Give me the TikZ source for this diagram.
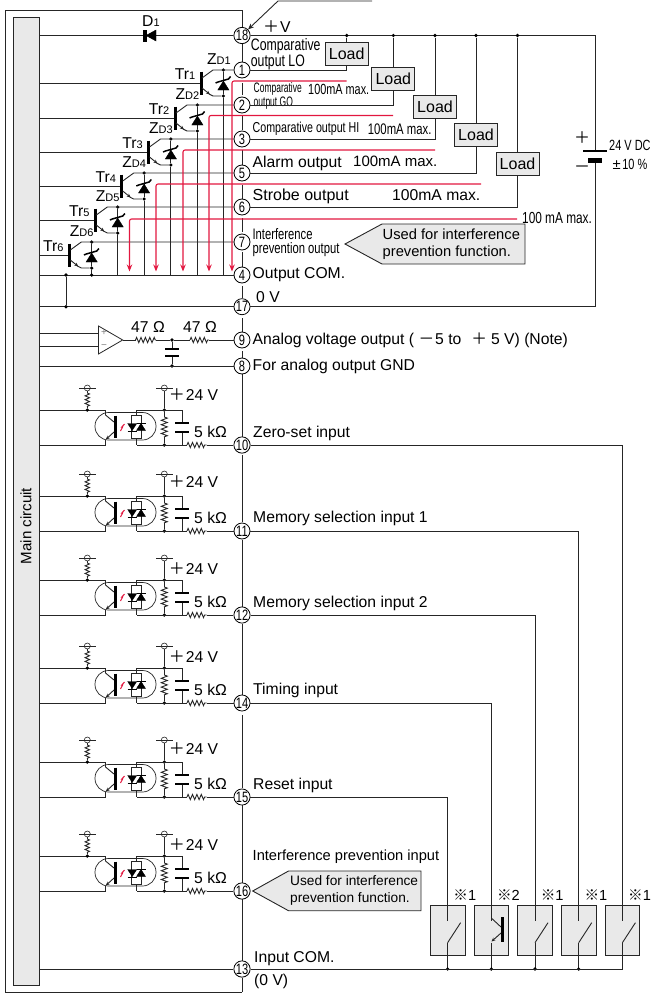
\documentclass[tikz,border=0pt]{standalone}
\usepackage{fontspec}
\setmainfont{Liberation Sans}
\newfontfamily\narrowfont[FakeStretch=0.74]{Liberation Sans}
\newfontfamily\slimfont[FakeStretch=0.62]{Liberation Sans}
\newfontfamily\cjk{Noto Sans CJK JP}
\usetikzlibrary{arrows.meta,decorations.pathmorphing}
\definecolor{panelgray}{HTML}{E9E9E9}
\definecolor{redwire}{HTML}{E2173F}
\newcommand{\lblsub}[2]{#1{\fontsize{11}{11}\selectfont\raisebox{-0.4pt}{#2}}}
\newcommand{\bigplus}{{\fontsize{16}{16}\selectfont\cjk ＋}}
\tikzset{
  wire/.style={line width=0.9pt,black!85},
  barline/.style={line width=3pt,black},
  redline/.style={line width=1.1pt,redwire,rounded corners=2pt},
  dot/.style={circle,fill=black,inner sep=0,minimum size=3.6pt},
  term/.style={circle,draw=black,line width=0.8pt,fill=white,inner sep=0,minimum size=16pt,font=\fontsize{15}{15}\narrowfont},
  lbl/.style={inner sep=0,anchor=west,align=left,font=\fontsize{15.7}{17}\selectfont},
  tiny/.style={inner sep=0,anchor=west,align=left,font=\fontsize{15.2}{13.4}\narrowfont},
  resist/.style={wire,decorate,decoration={zigzag,amplitude=2.6pt,segment length=4.4pt}},
  loadbox/.style={draw=black!85,line width=1pt,fill=panelgray,minimum width=43pt,minimum height=23pt,inner sep=0,font=\fontsize{16}{16}\selectfont},
  callout/.style={draw=black!85,line width=0.9pt,fill=panelgray},
  switchbox/.style={draw=black!85,line width=0.9pt,fill=panelgray,minimum width=34.7pt,minimum height=50pt,inner sep=0}
}
\begin{document}
\begin{tikzpicture}[x=1pt,y=-1pt]
\useasboundingbox (0,0) rectangle (651,993);
\draw[wire] (242,992) -- (5,992) -- (5,10) -- (242,10) -- (242,28);
\foreach \ya/\yb in {42/63,83/95,115/130,150/165,185/200,218/232,252/268,286/298,318/332,351/358,374/437,455/522,540/607,624/695,715/788,805/883,899/961,978/992}
  \draw[wire] (242,\ya) -- (242,\yb);
\node[draw=black!85,line width=0.9pt,fill=panelgray,minimum width=26.5pt,minimum height=968pt,inner sep=0] (main) at (26.3,501) {};
\node[rotate=90,font=\fontsize{15.1}{16}\selectfont,inner sep=0] (maintext) at (26,526) {Main circuit};
\foreach \n/\y in {18/35.5,1/70,2/105,3/139,5/173,6/207,7/242,4/275,17/306.7,9/340,8/366,10/445,11/531,12/615,14/703,15/797,16/891,13/969}
  \node[term] (t\n) at (242,\y) {\n};
\draw[wire] (main.east |- t18) -- (t18);
\draw[line width=3.4pt,black] (145,30) -- (145,41.5);
\filldraw[black] (146,35.5) -- (156,30) -- (156,41) -- cycle;
\node[lbl] (d1) at (142,21) {\lblsub{D}{1}};
\coordinate (vend) at (595,35.5);
\draw[wire] (t18) -- (vend) -- (595,151);
\coordinate (batb) at (595,163);
\draw[line width=2.4pt,black] (583,151) -- (607,151);
\draw[line width=5pt,black] (588,160.5) -- (602,160.5);
\draw[wire] (batb) -- (595,306.7) -- (t17);
\draw[wire] (main.east |- t17) -- (t17);
\draw[wire] (main.east |- t4) -- (t4);
\foreach \n/\x/\y/\term in {1/346.7/53.5/1,2/393.3/79/2,3/435/107/3,4/476/135/5,5/517.5/163.5/6} {
  \node[loadbox] (load\n) at (\x,\y) {Load};
  \node[dot] (vdot\n) at (\x,35.5) {};
  \draw[wire] (vdot\n) -- (load\n);
  \draw[wire] (t\term) -- (t\term -| load\n) -- (load\n);
}
\foreach \n/\bx/\cy/\term/\zo in {1/201/70/1/-4.5,2/175/105/2/-10,3/148.5/139/3/-10,4/121.7/173/5/-10,5/95.3/207/6/-10,6/69.3/242/7/-10} {
  \coordinate (bar\n) at (\bx,\cy+13);
  \coordinate (col\n) at (\bx+12,\cy);
  \coordinate (emi\n) at (\bx+12,\cy+26);
  \node[dot] (ztop\n) at (\bx+22.4,\cy) {};
  \node[dot] (zbot\n) at (\bx+22.4,\cy+26) {};
  \draw[wire] (main.east |- bar\n) -- (bar\n);
  \draw[barline] (\bx,\cy+1.5) -- (\bx,\cy+24.5);
  \draw[wire] (\bx+1,\cy+8) -- (col\n) -- (t\term);
  \draw[wire,-{Stealth[length=4pt,width=3.5pt]}] (\bx+1,\cy+18) -- (\bx+9,\cy+24.5);
  \draw[wire] (\bx+8,\cy+24) -- (emi\n) -- (zbot\n);
  \draw[wire] (ztop\n) -- (zbot\n);
  \filldraw[black] (\bx+22.4,\cy+11) -- (\bx+28,\cy+20) -- (\bx+16.8,\cy+20) -- cycle;
  \draw[line width=1.5pt,black] (\bx+14.6,\cy+13) -- (\bx+17,\cy+12) -- (\bx+27.5,\cy+9) -- (\bx+29.6,\cy+6.5);
  \draw[wire] (zbot\n) -- (zbot\n |- t4);
  \node[lbl,anchor=center] (trl\n) at (\bx-16,\cy+4) {\lblsub{Tr}{\n}};
  \node[lbl,anchor=center] (zdl\n) at (\bx+22.4+\zo,\cy-11) {\lblsub{Z}{D\n}};
}
\node[dot] (comdot) at (66,275) {};
\node[dot] (zerodot) at (66,306.7) {};
\node[dot] (zbotdot) at (91.7,275) {};
\draw[wire] (comdot) -- (zerodot);
\foreach \n/\x/\y/\xe in {1/232/81/346.7,2/209/115.5/393,3/183/150/435,4/156/184/481,5/129.5/219/517} {
  \coordinate (redend\n) at (\xe,\y);
  \coordinate (redtip\n) at (\x,271.5);
  \draw[redline,-{Stealth[length=7pt,width=5.5pt]}] (redend\n) -- (\x,\y) -- (redtip\n);
}
\node[tiny,font=\fontsize{16.6}{13.7}\narrowfont] (lolbl) at (250.7,54) {Comparative\\output LO};
\node[tiny,fill=white,font=\fontsize{13.7}{13.7}\slimfont,inner xsep=1pt] (golbl) at (252.5,96) {Comparative\\output GO};
\node[tiny,font=\fontsize{14.7}{13}\narrowfont] (gomax) at (308,89) {100mA max.};
\draw[wire] (t2) -- (golbl.east |- t2);
\node[tiny,font=\fontsize{14.4}{13}\narrowfont] (hilbl) at (252.5,129) {Comparative output HI};
\node[tiny,font=\fontsize{15.3}{13}\narrowfont] (himax) at (367.7,129) {100mA max.};
\node[lbl] (allbl) at (252.5,163) {Alarm output};
\node[lbl,font=\fontsize{15}{17}\selectfont] (almax) at (353,161) {100mA max.};
\node[lbl,font=\fontsize{16}{17}\selectfont] (stlbl) at (252.5,196) {Strobe output};
\node[lbl] (stmax) at (392,195) {100mA max.};
\node[tiny,font=\fontsize{16}{13}\narrowfont] (ipmax) at (522,218) {100 mA max.};
\node[tiny] (iplbl) at (252.3,242.5) {Interference\\prevention output};
\node[lbl] (oclbl) at (252.5,275) {Output COM.};
\node[lbl] (zvlbl) at (256,297) {0 V};
\node[lbl] (pvlbl) at (263,27) {\bigplus\kern1pt V};
\draw[wire,-{Stealth[length=6pt,width=5pt]}] (372,1) -- (278,1) -- (t18.north east);
\filldraw[callout] (345,244) -- (382,224) -- (525,224) -- (525,264) -- (382,264) -- cycle;
\node[lbl,font=\fontsize{14.7}{17}\selectfont] (ipnote) at (382.5,244) {Used for interference\\prevention function.};
\node[lbl,anchor=center,font=\fontsize{16}{16}\cjk] (batp) at (582,138) {＋};
\node[lbl,anchor=center,font=\fontsize{16}{16}\cjk] (batm) at (582,169) {－};
\node[tiny,font=\fontsize{14.8}{14}\narrowfont] (dclbl) at (609,145) {24 V DC};
\node[tiny,font=\fontsize{14.8}{14}\narrowfont] (pclbl) at (612.5,164) {{\rmfamily ±}\kern1.5pt 10 \%};
\draw[wire,fill=white,line width=0.8pt] (98.5,326) -- (122.7,340) -- (98.5,354) -- cycle;
\node[inner sep=0,font=\fontsize{10}{10}\selectfont,text=black!50] (ampplus) at (104,333) {+};
\node[inner sep=0,font=\fontsize{10}{10}\selectfont,text=black!50] (ampminus) at (104,347) {−};
\coordinate (ampin1) at (98.5,333.7);
\coordinate (ampin2) at (98.5,346);
\draw[wire] (main.east |- ampin1) -- (ampin1);
\draw[wire] (main.east |- ampin2) -- (ampin2);
\node[dot] (capa) at (172,340) {};
\node[dot] (capb) at (172,366) {};
\draw[wire] (122.7,340) -- (135.5,340);
\draw[resist] (135.5,340) -- (156,340);
\draw[wire] (156,340) -- (capa) -- (190,340);
\draw[resist] (190,340) -- (209,340);
\draw[wire] (209,340) -- (t9);
\draw[wire] (main.east |- t8) -- (t8);
\draw[wire] (capa) -- (172,349);
\draw[wire] (172,355.7) -- (capb);
\draw[line width=1.6pt,black] (165,349) -- (179,349) (165,355.7) -- (179,355.7);
\node[lbl,anchor=center] (ohma) at (148,327.5) {47 Ω};
\node[lbl,anchor=center] (ohmb) at (200,327.5) {47 Ω};
\node[lbl] (anlbl) at (252.5,340) {Analog voltage output ( {\cjk －}\kern1pt 5 to\kern10pt{\cjk ＋}\kern4pt 5 V) (Note)};
\node[lbl] (gndlbl) at (252.5,366.5) {For analog output GND};
\foreach \n/\Y/\py in {10/445/395,11/531/481.7,12/615/569,14/703/656.7,15/797/749,16/891/845} {
  \coordinate (inup\n) at (105.5,\Y-35);
  \coordinate (inlow\n) at (105.5,\Y);
  \draw[wire] (main.east |- inup\n) -- (inup\n) -- (105.5,\Y-30);
  \draw[wire] (main.east |- inlow\n) -- (inlow\n) -- (105.5,\Y-5);
  \draw[line width=0.7pt,black!85,rounded corners=13.5pt] (95,\Y-32.5) rectangle (156,\Y-5);
  \draw[barline] (115.5,\Y-29.5) -- (115.5,\Y-7);
  \draw[wire] (114,\Y-23) -- (105.5,\Y-30);
  \draw[wire,-{Stealth[length=4pt,width=3.5pt]}] (114,\Y-13) -- (105.8,\Y-5.5);
  \draw[line width=1pt,redwire] (120.5,\Y-14) -- (122.6,\Y-18) -- (121.8,\Y-18) -- (124.5,\Y-21);
  \draw[wire,line width=0.7pt,fill=white] (131.5,\Y-30) rectangle (141.5,\Y-6.7);
  \filldraw[black] (127.7,\Y-21.5) -- (136.7,\Y-21.5) -- (132.2,\Y-14.5) -- cycle;
  \draw[line width=1pt] (127.7,\Y-14) -- (136.7,\Y-14);
  \filldraw[black] (136.5,\Y-14.5) -- (145.5,\Y-14.5) -- (141,\Y-21.5) -- cycle;
  \draw[line width=1pt] (136.5,\Y-22) -- (145.5,\Y-22);
  \draw[wire] (136.5,\Y-35) -- (136.5,\Y-30);
  \draw[wire] (136.5,\Y-6.7) -- (136.5,\Y);
  \node[dot] (upl\n) at (87.3,\Y-35) {};
  \node[circle,draw=black!85,line width=0.6pt,inner sep=0,minimum size=6pt] (pua\n) at (87.3,\Y-57) {};
  \draw[wire,line width=0.7pt] (79,\Y-57) -- (96,\Y-57);
  \draw[wire] (pua\n) -- (87.3,\Y-52);
  \draw[resist,decoration={amplitude=2.2pt,segment length=3.8pt}] (87.3,\Y-52) -- (87.3,\Y-38);
  \draw[wire] (87.3,\Y-38) -- (upl\n);
  \node[circle,draw=black!85,line width=0.6pt,inner sep=0,minimum size=6pt] (pub\n) at (164.3,\Y-57) {};
  \draw[wire,line width=0.7pt] (156,\Y-57) -- (173,\Y-57);
  \node[dot] (upr\n) at (164.3,\Y-35) {};
  \node[dot] (lowr\n) at (164.3,\Y) {};
  \draw[wire] (pub\n) -- (upr\n) -- (164.3,\Y-28);
  \draw[resist,decoration={amplitude=3pt,segment length=4.4pt}] (164.3,\Y-28) -- (164.3,\Y-8);
  \draw[wire] (164.3,\Y-8) -- (lowr\n);
  \draw[wire] (136.5,\Y-35) -- (182,\Y-35) -- (182,\Y-22);
  \draw[wire] (182,\Y-13) -- (182,\Y) -- (136.5,\Y);
  \draw[line width=1.6pt,black] (175,\Y-22) -- (189,\Y-22) (175,\Y-13) -- (189,\Y-13);
  \draw[wire] (182,\Y) -- (187,\Y);
  \draw[resist] (187,\Y) -- (206.7,\Y);
  \draw[wire] (206.7,\Y) -- (t\n);
  \node[lbl] (pl\n) at (168.7,\py) {\bigplus\kern1pt 24 V};
  \node[lbl] (kl\n) at (194,\Y-13.5) {5 kΩ};
}
\foreach \n/\x/\m/\term in {a/447.6/1/15,b/491.3/2/14,c/535/1/12,d/578.7/1/11,e/622.4/1/10} {
  \node[switchbox] (sw\n) at (\x,930) {};
  \coordinate (swt\n) at (\x,920.7);
  \coordinate (swb\n) at (\x,942.7);
  \coordinate (swc\n) at (\x,969);
  \draw[wire] (t\term) -- (t\term -| sw\n) -- (swt\n);
  \draw[wire] (swb\n) -- (swc\n);
  \node[lbl,anchor=center,font=\fontsize{14.6}{15}\selectfont] (swl\n) at (\x+17.2,895) {{\cjk ※}\m};
}
\foreach \n in {a,c,d,e}
  \draw[wire] (swb\n) -- ([xshift=13pt,yshift=20pt]swb\n);
\draw[line width=3pt,black] (502.7,917) -- (502.7,941.7);
\draw[wire] (491.3,918) -- (501,927);
\draw[wire,-{Stealth[length=4pt,width=3.5pt]}] (501,933) -- (491.5,941.5);
\foreach \n in {a,b,c,d}
  \node[dot] (swd\n) at (swc\n) {};
\draw[wire] (t13) -- (swce) -- (swbe);
\draw[wire] (main.east |- t13) -- (t13);
\node[lbl] (zslbl) at (253,433) {Zero-set input};
\node[lbl] (m1lbl) at (253,518) {Memory selection input 1};
\node[lbl] (m2lbl) at (253,603) {Memory selection input 2};
\node[lbl] (tilbl) at (253,690.7) {Timing input};
\node[lbl] (rslbl) at (253,785) {Reset input};
\node[lbl,font=\fontsize{14.65}{16}\selectfont] (iilbl) at (252.5,857) {Interference prevention input};
\filldraw[callout] (252.7,891) -- (288.5,871) -- (421,871) -- (421,910.7) -- (288.5,910.7) -- cycle;
\node[lbl,font=\fontsize{13.7}{17.3}\selectfont] (iinote) at (290,890.5) {Used for interference\\prevention function.};
\node[lbl] (iclbl) at (254,959) {Input COM.};
\node[lbl] (ovlbl) at (254,981) {(0 V)};
\end{tikzpicture}
\end{document}
